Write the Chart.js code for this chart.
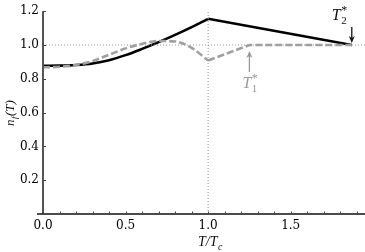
<!DOCTYPE html>
<html>
<head>
<meta charset="utf-8">
<script src="https://cdn.jsdelivr.net/npm/chart.js"></script>
<style>
    html, body { margin: 0; padding: 0; background: #fff; }
    #wrap { width: 365px; height: 252px; }
</style>
</head>
<body>
<div id="wrap">
    <canvas id="lineChart" width="365" height="252"></canvas>
</div>

<script>
    // smooth part of both curves, T/Tc from 0 to 1
    const tLow = [0, 0.1, 0.2, 0.3, 0.4, 0.5, 0.6, 0.7, 0.8, 0.9, 1.0];
    const blackLow = [0.877, 0.878, 0.882, 0.891, 0.910, 0.940, 0.977, 1.017, 1.060, 1.106, 1.155];
    const grayLow = [0.868, 0.871, 0.882, 0.905, 0.942, 0.980, 1.007, 1.024, 1.021, 0.983, 0.908];

    // straight part above Tc
    const tHighBlack = [1.0, 1.87];
    const blackHigh = [1.155, 1.0];
    const tHighGray = [1.0, 1.25, 1.87];
    const grayHigh = [0.908, 1.0, 1.0];

    // marked temperatures
    const T1star = 1.25;
    const T2star = 1.87;

    const xTicks = [0, 0.5, 1.0, 1.5];
    const yTicks = [0.2, 0.4, 0.6, 0.8, 1.0, 1.2];
    const xMinor = [0.1, 0.2, 0.3, 0.4, 0.6, 0.7, 0.8, 0.9, 1.1, 1.2, 1.3, 1.4, 1.6, 1.7, 1.8, 1.9];

    const xMax = 1.95;
    const yMax = 1.2;

    function pts(xs, ys) {
        return xs.map((x, i) => ({ x: x, y: ys[i] }));
    }

    const serif = '"DejaVu Serif", serif';
    const mathFont = '"Liberation Serif", "DejaVu Serif", serif';

    // draw text like T_2^* : parts = [[text, 'n'|'sub'|'sup'], ...]
    function drawMath(ctx, parts, x, y, size, color) {
        ctx.fillStyle = color;
        ctx.textBaseline = 'alphabetic';
        ctx.textAlign = 'left';
        let cx = x;
        parts.forEach(p => {
            const kind = p[1];
            if (kind === 'n') {
                ctx.font = 'italic ' + size + 'px ' + mathFont;
                ctx.fillText(p[0], cx, y);
                cx += ctx.measureText(p[0]).width;
            } else if (kind === 'sub') {
                ctx.font = (p[2] ? 'italic ' : '') + Math.round(size * 0.7) + 'px ' + mathFont;
                ctx.fillText(p[0], cx + 0.5, y + size * 0.25);
                if (!p[3]) cx += ctx.measureText(p[0]).width + 1;
            } else if (kind === 'sup') {
                ctx.font = Math.round(size * 0.75) + 'px ' + mathFont;
                ctx.fillText(p[0], cx + 0.5, y - size * 0.38);
                cx += ctx.measureText(p[0]).width + 1;
            }
        });
        return cx - x;
    }

    function arrow(ctx, x, yTail, yTip, color) {
        ctx.save();
        ctx.strokeStyle = color;
        ctx.fillStyle = color;
        ctx.lineWidth = 1.3;
        const dir = yTip > yTail ? 1 : -1;
        ctx.beginPath();
        ctx.moveTo(x, yTail);
        ctx.lineTo(x, yTip - dir * 5);
        ctx.stroke();
        ctx.beginPath();
        ctx.moveTo(x, yTip);
        ctx.lineTo(x - 3, yTip - dir * 7);
        ctx.lineTo(x, yTip - dir * 5);
        ctx.lineTo(x + 3, yTip - dir * 7);
        ctx.closePath();
        ctx.fill();
        ctx.restore();
    }

    const decorations = {
        id: 'decorations',
        afterDraw(chart) {
            const ctx = chart.ctx;
            const xs = chart.scales.x;
            const ys = chart.scales.y;
            const area = chart.chartArea;
            ctx.save();

            // axes
            ctx.strokeStyle = '#555';
            ctx.lineWidth = 2;
            ctx.beginPath();
            ctx.moveTo(area.left, area.top);
            ctx.lineTo(area.left, area.bottom);
            ctx.stroke();
            ctx.strokeStyle = '#111';
            ctx.lineWidth = 1.6;
            ctx.beginPath();
            ctx.moveTo(area.left - 6, area.bottom);
            ctx.lineTo(area.right, area.bottom);
            ctx.stroke();

            // inward ticks
            ctx.strokeStyle = '#444';
            ctx.lineWidth = 1;
            ctx.beginPath();
            xTicks.concat(xMinor).forEach(v => {
                const px = Math.round(xs.getPixelForValue(v)) + 0.5;
                ctx.moveTo(px, area.bottom);
                ctx.lineTo(px, area.bottom - 2.5);
            });
            yTicks.forEach(v => {
                const py = Math.round(ys.getPixelForValue(v)) + 0.5;
                ctx.moveTo(area.left, py);
                ctx.lineTo(area.left + 3, py);
            });
            ctx.stroke();

            // axis titles
            drawMath(ctx, [['T', 'n'], ['/', 'n'], ['T', 'n'], ['c', 'sub', true]],
                (area.left + area.right) / 2 - 6, 246, 14, '#111');

            ctx.save();
            ctx.translate(14, 126);
            ctx.rotate(-Math.PI / 2);
            drawMath(ctx, [['n', 'n'], ['f', 'sub', true], ['(T)', 'n']], 0, 0, 13, '#111');
            ctx.restore();

            // T2* marker
            const x2 = xs.getPixelForValue(T2star);
            const y2 = ys.getPixelForValue(1.0);
            arrow(ctx, x2, y2 - 18, y2 - 2, '#111');
            drawMath(ctx, [['T', 'n'], ['2', 'sub', false, true], ['*', 'sup']], x2 - 20, y2 - 25, 16, '#111');

            // T1* marker
            const x1 = xs.getPixelForValue(T1star);
            arrow(ctx, x1, y2 + 27, y2 + 6, '#999');
            drawMath(ctx, [['T', 'n'], ['1', 'sub', false, true], ['*', 'sup']], x1 - 7, y2 + 43, 16, '#999');

            ctx.restore();
        }
    };

    render_chart();

    function render_chart() {
        const ctx = document.getElementById('lineChart').getContext('2d');

        const dotted = {
            borderColor: '#999',
            borderWidth: 1,
            borderDash: [1, 2],
            pointRadius: 0,
            tension: 0
        };

        const data = {
            datasets: [
                Object.assign({ label: 'n=1', data: pts([0, xMax], [1.0, 1.0]) }, dotted),
                Object.assign({ label: 'T=Tc', data: pts([1.0, 1.0], [0, yMax]) }, dotted),
                {
                    label: 'gray low',
                    data: pts(tLow, grayLow),
                    borderColor: '#a0a0a0',
                    borderWidth: 2.6,
                    borderDash: [7, 3],
                    pointRadius: 0,
                    cubicInterpolationMode: 'monotone'
                },
                {
                    label: 'gray high',
                    data: pts(tHighGray, grayHigh),
                    borderColor: '#a0a0a0',
                    borderWidth: 2.6,
                    borderDash: [7, 3],
                    pointRadius: 0,
                    tension: 0
                },
                {
                    label: 'black low',
                    data: pts(tLow, blackLow),
                    borderColor: '#000',
                    borderWidth: 2.6,
                    pointRadius: 0,
                    cubicInterpolationMode: 'monotone'
                },
                {
                    label: 'black high',
                    data: pts(tHighBlack, blackHigh),
                    borderColor: '#000',
                    borderWidth: 2.6,
                    pointRadius: 0,
                    tension: 0
                }
            ]
        };

        new Chart(ctx, {
            type: 'line',
            data: data,
            plugins: [decorations],
            options: {
                responsive: false,
                animation: false,
                events: [],
                layout: { padding: { top: 10, right: 0, left: 0, bottom: 0 } },
                plugins: {
                    legend: { display: false },
                    tooltip: { enabled: false },
                    title: { display: false }
                },
                scales: {
                    x: {
                        type: 'linear',
                        min: 0,
                        max: xMax,
                        afterBuildTicks: s => { s.ticks = xTicks.map(v => ({ value: v })); },
                        afterFit: s => { s.height = 38; },
                        grid: { display: false, drawTicks: false },
                        border: { display: false },
                        ticks: {
                            padding: 5,
                            color: '#000',
                            font: { family: serif, size: 12 },
                            maxRotation: 0,
                            callback: v => Number(v).toFixed(1)
                        }
                    },
                    y: {
                        type: 'linear',
                        min: 0,
                        max: yMax,
                        afterBuildTicks: s => { s.ticks = yTicks.map(v => ({ value: v })); },
                        afterFit: s => { s.width = 43; },
                        grid: { display: false, drawTicks: false },
                        border: { display: false },
                        ticks: {
                            padding: 4,
                            color: '#000',
                            font: { family: serif, size: 12 },
                            callback: v => Number(v).toFixed(1)
                        }
                    }
                }
            }
        });
    }
</script>
</body>
</html>
